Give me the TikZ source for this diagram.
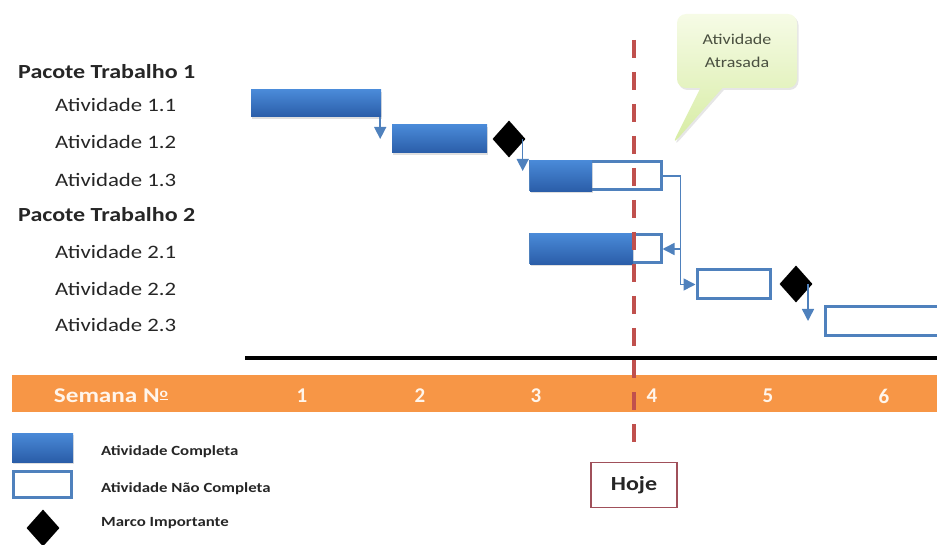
\documentclass[tikz,border=0pt]{standalone}
\usepackage{fontspec}
\setmainfont{Carlito}
\usetikzlibrary{shapes.geometric,shapes.callouts,shadows,calc,arrows.meta}
\definecolor{bartop}{HTML}{4A8AD8}
\definecolor{barbot}{HTML}{2A5DA8}
\definecolor{outblue}{HTML}{4F81BD}
\definecolor{todayred}{HTML}{C0504D}
\definecolor{bandorange}{HTML}{F79646}
\definecolor{txtgray}{HTML}{262626}
\definecolor{calltxt}{HTML}{4A5040}
\definecolor{hojebord}{HTML}{A0505A}
\definecolor{calltop}{HTML}{F6FBE6}
\definecolor{callbot}{HTML}{D6ECA2}
\newcommand{\sx}[1]{\scalebox{1.2}[1]{#1}}
\begin{document}
\begin{tikzpicture}[x=1pt,y=-1pt,
  lbl/.style={font=\fontsize{19}{22}\selectfont, text=txtgray, inner sep=0, anchor=west},
  pkg/.style={font=\fontsize{20}{23}\selectfont\bfseries, text=txtgray, inner sep=0, anchor=west},
  barfull/.style={rectangle, inner sep=0, top color=bartop, bottom color=barbot, draw=none,
     drop shadow={shadow xshift=1pt, shadow yshift=-2pt, opacity=0.25}},
  barempty/.style={rectangle, inner sep=0, fill=white, draw=outblue, line width=3pt},
  milestone/.style={diamond, fill=black, inner sep=0, minimum width=33pt, minimum height=37pt, aspect=0.9},
  conn/.style={draw=outblue, line width=1.5pt, -{Triangle[length=12pt,width=12pt]}},
  week/.style={font=\fontsize{21}{24}\selectfont\bfseries, text=white!92!orange, inner sep=0},
  legtxt/.style={font=\fontsize{14}{16}\selectfont\bfseries, text=txtgray, inner sep=0, anchor=west},
  today/.style={draw=todayred, line width=4pt, dash pattern=on 18pt off 14pt}
]
\useasboundingbox (0,0) rectangle (937,545);

% activity labels
\node[pkg] (p1) at (18,72) {\sx{Pacote Trabalho 1}};
\node[lbl] (l11) at (55,105) {\sx{Atividade 1.1}};
\node[lbl] (l12) at (55,142) {\sx{Atividade 1.2}};
\node[lbl] (l13) at (55,180) {\sx{Atividade 1.3}};
\node[pkg] (p2) at (18,215) {\sx{Pacote Trabalho 2}};
\node[lbl] (l21) at (55,252) {\sx{Atividade 2.1}};
\node[lbl] (l22) at (55,289) {\sx{Atividade 2.2}};
\node[lbl] (l23) at (55,325) {\sx{Atividade 2.3}};

% bars
\node[barfull, minimum width=130pt, minimum height=27pt] (a11) at (316,103.5) {};
\node[barfull, minimum width=95pt, minimum height=28pt] (a12) at (439.5,139) {};
\node[milestone] (m1) at (509,139) {};
\node[barempty, minimum width=131pt, minimum height=28pt] (a13) at (595.5,176) {};
\node[barfull, minimum width=62pt, minimum height=31pt] (a13f) at (561,176) {};
\node[barempty, minimum width=131pt, minimum height=28pt] (a21) at (595.5,249) {};
\node[barfull, minimum width=103pt, minimum height=31pt] (a21f) at (581.5,249) {};
\node[barempty, minimum width=73pt, minimum height=29pt] (a22) at (733.5,284.5) {};
\node[milestone] (m2) at (796,284) {};
\node[barempty, minimum width=130pt, minimum height=28pt] (a23) at (890,321) {};

% connectors
\draw[conn] ([xshift=-1pt]a11.south east) -- ([xshift=-1pt]a11.south east |- a12.west);
\draw[conn] ([xshift=-3pt]m1.east) -- ([xshift=-3pt,yshift=5pt]m1.east |- a13.west);
\coordinate (j) at ($(a13.east)+(18,0)$);
\draw[draw=outblue, line width=1.5pt] (a13.east) -- (j);
\draw[conn] (j) |- (a22.west);
\draw[conn] (j |- a21.east) -- (a21.east);
\draw[conn] ([xshift=12pt]m2.center) -- ([xshift=12pt]m2.center |- a23.west);

% callout
\coordinate (latetip) at (672,145);
\node[rectangle callout, rounded corners=9pt, top color=calltop, bottom color=callbot, draw=none,
      minimum width=120pt, minimum height=74pt, callout absolute pointer={(latetip)},
      callout pointer width=22pt, align=center, text=calltxt,
      font=\fontsize{15}{23}\selectfont,
      drop shadow={shadow xshift=1.5pt, shadow yshift=-2pt, opacity=0.2}] (late) at (737,51)
      {\sx{Atividade}\\\sx{Atrasada}};

% axis line and week band
\coordinate (axl) at (245,358);
\coordinate (axr) at (940,358);
\draw[line width=4pt, black] (axl) -- (axr);
\node[fill=bandorange, inner sep=0, anchor=north west, minimum width=930pt, minimum height=37pt] (band) at (12,375) {};
\node[week] (wk) at (111,396) {\sx{Semana N\raisebox{0.55ex}{\fontsize{13}{14}\selectfont\underline{o}}}};
\node[week] (w1) at (302,396) {1};
\node[week] (w2) at (420,396) {2};
\node[week] (w3) at (536,396) {3};
\node[week] (w4) at (652,396) {4};
\node[week] (w5) at (768,396) {5};
\node[week] (w6) at (884,396) {6};

% today
\node[draw=hojebord, line width=1.8pt, fill=white, minimum width=86pt, minimum height=45pt,
      font=\fontsize{20}{23}\selectfont\bfseries, text=txtgray] (hoje) at (634,485) {\sx{Hoje}};
\coordinate (todaytop) at (634,40);
\draw[today] (todaytop) -- ([yshift=11pt]hoje.north);

% legend
\node[barfull, minimum width=61pt, minimum height=29pt] (lgfull) at (42.5,447.5) {};
\node[barempty, minimum width=58pt, minimum height=26pt] (lgempty) at (42.5,484) {};
\node[milestone] (lgm) at (43,528) {};
\node[legtxt] (tfull) at (101,452) {\sx{Atividade Completa}};
\node[legtxt] (tempty) at (101,489) {\sx{Atividade Não Completa}};
\node[legtxt] (tm) at (101,523) {\sx{Marco Importante}};
\end{tikzpicture}
\end{document}
